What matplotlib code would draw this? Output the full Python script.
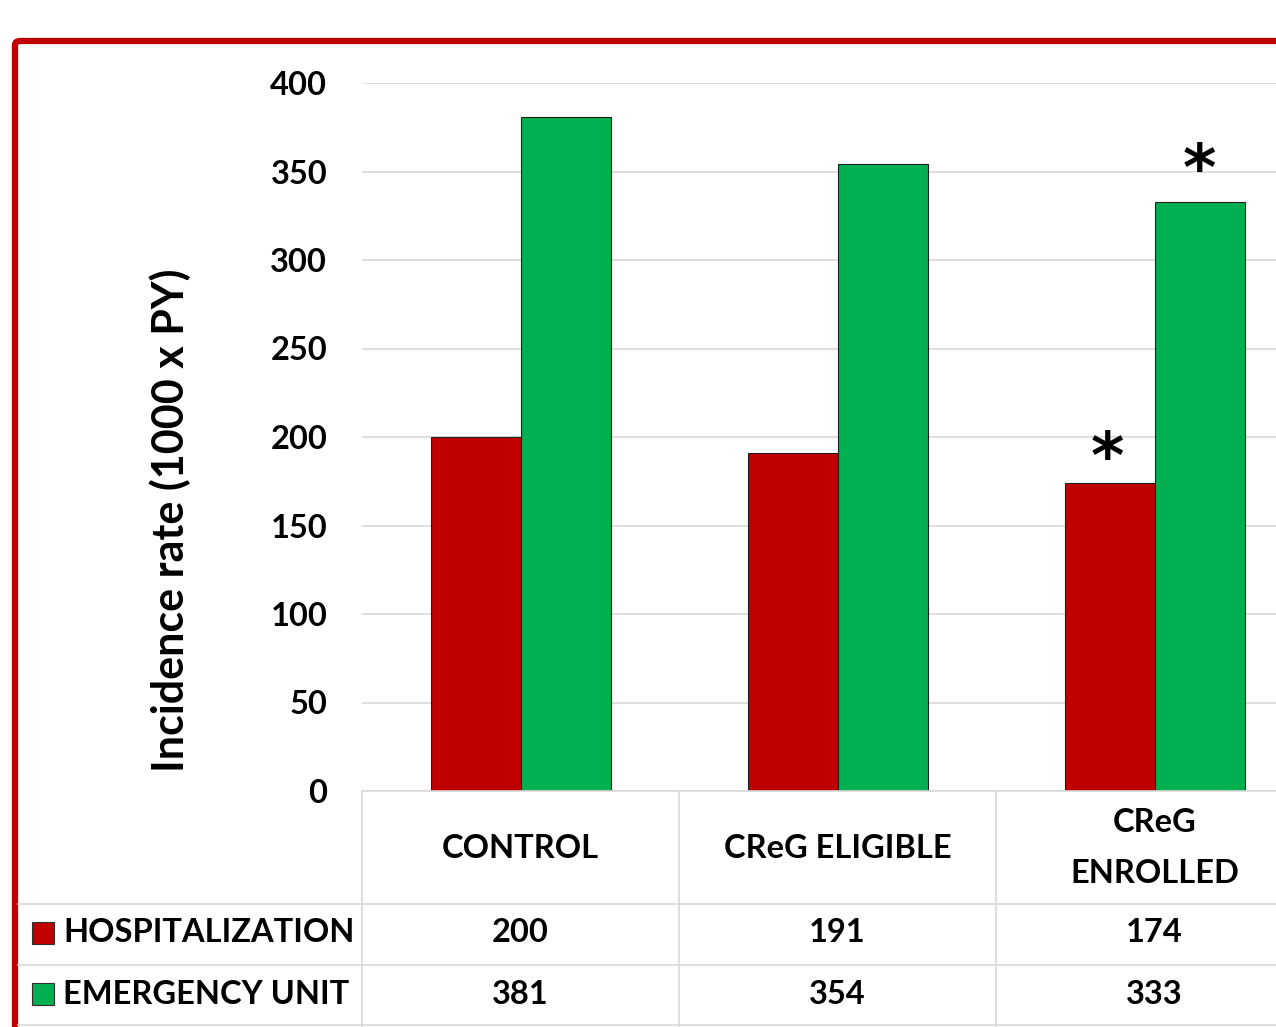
import matplotlib
matplotlib.use("Agg")
import matplotlib.pyplot as plt
from matplotlib.patches import FancyBboxPatch, Rectangle
from matplotlib.lines import Line2D
from matplotlib.transforms import blended_transform_factory
import numpy as np

plt.rcParams['font.family'] = ['Lato', 'DejaVu Sans']

categories = ["CONTROL", "CReG ELIGIBLE", "CReG\nENROLLED"]
series_names = ["HOSPITALIZATION", "EMERGENCY UNIT"]
hospitalization = [200, 191, 174]
emergency_unit = [381, 354, 333]
significant = [[False, False, True], [False, False, True]]
y_ticks = [0, 50, 100, 150, 200, 250, 300, 350, 400]

RED = "#C00000"
GREEN = "#00B050"
GRID = "#D9D9D9"
FS = 23.5

W, H = 1276, 1027
fig = plt.figure(figsize=(W / 100, H / 100), dpi=100)

def fx(px):
    return px / W

def fy(py):
    return 1 - py / H

# plot area in pixel coordinates
left, right, top, bottom = 362, 1276, 83, 791
ax = fig.add_axes([fx(left), fy(bottom), fx(right) - fx(left), fy(top) - fy(bottom)])

col_w = 317
x = np.arange(len(categories))
bw = 90 / col_w
ax.bar(x - bw / 2, hospitalization, bw, color=RED, edgecolor="#202020", linewidth=0.8, zorder=3)
ax.bar(x + bw / 2, emergency_unit, bw, color=GREEN, edgecolor="#202020", linewidth=0.8, zorder=3)

ax.set_xlim(-0.5, -0.5 + (right - left) / col_w)
ax.set_ylim(0, 400)
ax.set_yticks(y_ticks)
ax.set_yticklabels([str(t) for t in y_ticks], fontsize=FS, fontweight='bold')
ax.tick_params(axis='y', length=0, pad=25)
ax.set_xticks([])
for s in ax.spines.values():
    s.set_visible(False)
ax.grid(axis='y', color=GRID, linewidth=1.2, zorder=0)
ax.set_axisbelow(True)

# y-axis title, placed in figure coordinates
fig.text(fx(170), fy(520), "Incidence rate (1000 x PY)", rotation=90, ha='center',
         va='center', fontsize=31, fontweight='bold')

# significance markers above bars
star_kw = dict(ha='center', va='center', fontsize=46, fontweight='bold', family='DejaVu Sans')
for i in range(len(categories)):
    if significant[0][i]:
        ax.text(x[i] - bw / 2 - 0.008, hospitalization[i] + 13, "*", **star_kw)
    if significant[1][i]:
        ax.text(x[i] + bw / 2, emergency_unit[i] + 17, "*", **star_kw)

# data table below the axis
tr = blended_transform_factory(ax.transData, fig.transFigure)
row_lines = [791, 904, 965, 1025]
for i, py in enumerate(row_lines):
    x0 = left if i == 0 else 18
    fig.add_artist(Line2D([fx(x0), 1], [fy(py), fy(py)], color=GRID, linewidth=1.2,
                          transform=fig.transFigure))
for k in range(len(categories) + 1):
    xv = -0.5 + k
    fig.add_artist(Line2D([xv, xv], [fy(791), fy(1027)], color=GRID, linewidth=1.2,
                          transform=tr))

for i, c in enumerate(categories):
    fig.text(x[i], fy(848), c, transform=tr, ha='center', va='center', fontsize=FS,
             fontweight='bold', linespacing=1.9)
    fig.text(x[i], fy(933), str(hospitalization[i]), transform=tr, ha='center',
             va='center', fontsize=FS, fontweight='bold')
    fig.text(x[i], fy(994), str(emergency_unit[i]), transform=tr, ha='center',
             va='center', fontsize=FS, fontweight='bold')

for name, color, py in [(series_names[0], RED, 933), (series_names[1], GREEN, 994)]:
    fig.add_artist(Rectangle((fx(32), fy(py + 11)), fx(22), 22 / H, facecolor=color,
                             edgecolor="#303030", linewidth=0.8, transform=fig.transFigure))
    fig.text(fx(63), fy(py), name, ha='left', va='center', fontsize=FS, fontweight='bold')

# outer frame
fig.add_artist(FancyBboxPatch((fx(15), fy(1100)), fx(1400) - fx(15), (1100 - 41) / H,
                              boxstyle="round,pad=0,rounding_size=0.004",
                              facecolor='none', edgecolor=RED, linewidth=4.5,
                              transform=fig.transFigure, clip_on=False))

fig.savefig("out.png", dpi=100)
